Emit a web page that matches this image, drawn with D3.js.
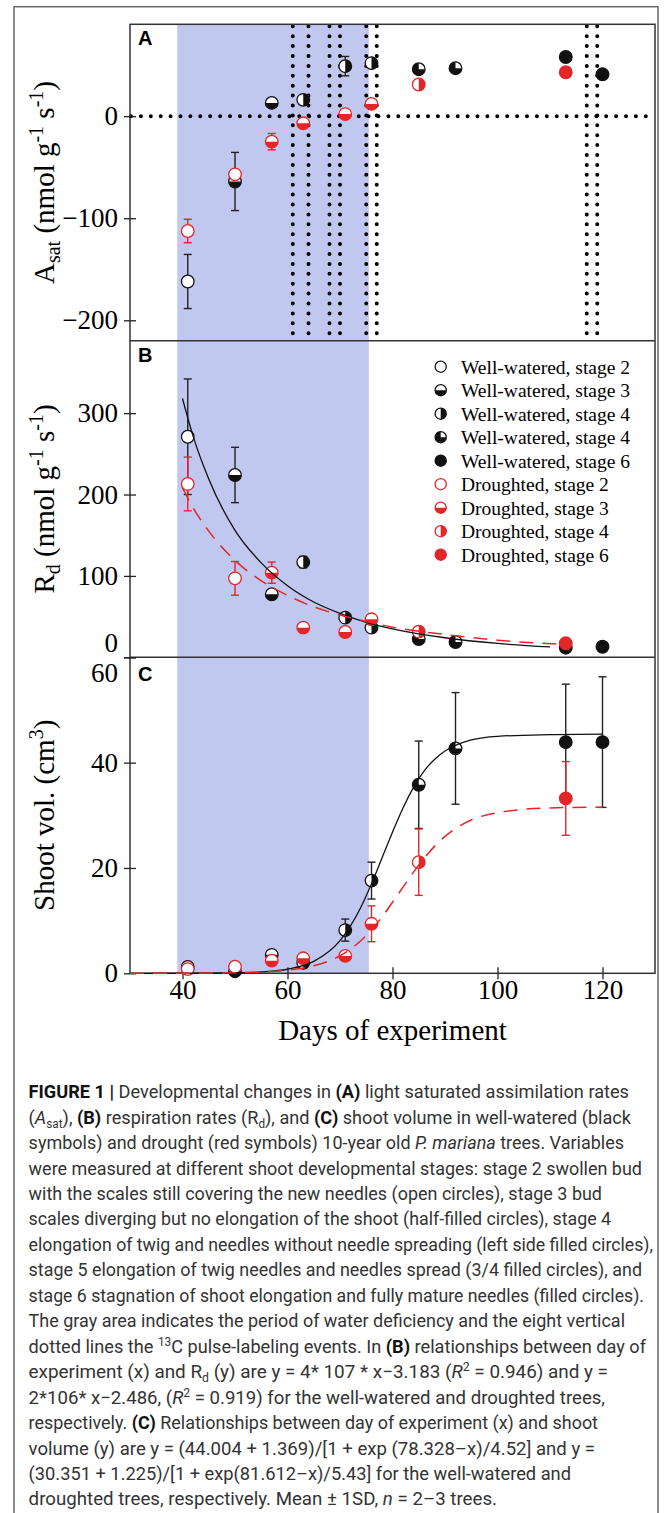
<!DOCTYPE html>
<html><head><meta charset="utf-8">
<script src="https://cdn.jsdelivr.net/npm/d3@7/dist/d3.min.js"></script>
<style>html,body{margin:0;padding:0;background:#fff;}svg{display:block;}</style>
</head><body>
<script>
// ---------- DATA ----------
const daysWW = [41, 50, 57, 63, 71, 76, 85, 92, 113, 120];
const stageWW = [2, 3, 3, 4, 4, 4, 5, 5, 6, 6];
const asatWW = [-162, -64, 13, 16, 49, 52, 46, 47, 58, 41];
const asatWWsd = [26.5, 28.5, 0, 0, 9.5, 0, 0, 0, 0, 0];
const rdWW = [271, 224, 77.5, 117, 48.7, 36.4, 22.5, 18.8, 11.8, 13];
const rdWWsd = [71, 34, 0, 7, 0, 0, 0, 0, 0, 0];
const volWW = [1.2, 0.4, 3.5, 2.0, 8.2, 17.6, 35.8, 42.7, 43.9, 43.9];
const volWWsd = [0, 0, 0, 0, 2.1, 3.5, 8.3, 10.6, 11, 12.4];

const daysD = [41, 50, 57, 63, 71, 76, 85, 113];
const stageD = [2, 2, 3, 3, 3, 3, 4, 6];
const asatD = [-112.5, -57, -25, -7, 2, 12, 31, 43];
const asatDsd = [11.5, 0, 8, 0, 0, 0, 0, 0];
const rdD = [213, 97, 104, 36.4, 31.1, 46.7, 31.5, 17.2];
const rdDsd = [33, 20.7, 13, 5, 0, 0, 0, 0];
const volD = [0.8, 1.25, 2.4, 2.85, 3.3, 9.4, 21.1, 33.2];
const volDsd = [0, 0, 0, 0, 0, 3.4, 6.3, 7];

// fitted curves
const rdFitDaysWW = [40, 42, 45, 50, 55, 60, 65, 70, 75, 80, 90, 100, 110];
const rdFitWW = [318, 272, 219, 156, 116, 88, 68, 54, 43, 35, 24, 17, 12.7];
const rdFitDaysD = [40, 42, 45, 50, 55, 60, 65, 70, 75, 80, 90, 100, 112];
const rdFitD = [208, 184, 155, 119, 94, 76, 62, 52, 44, 37, 28, 21, 16];
const volFitDays = [30, 40, 50, 55, 60, 65, 70, 72, 74, 76, 78, 80, 82, 84, 86, 88, 90, 95, 100, 110, 120];
const volFitWW = [0, 0.01, 0.09, 0.26, 0.77, 2.26, 6.2, 9.0, 12.6, 17.0, 21.9, 26.8, 31.4, 35.3, 38.4, 40.6, 42.2, 44.3, 45.0, 45.3, 45.4];
const volFitD = [0, 0.015, 0.09, 0.23, 0.58, 1.42, 3.33, 4.6, 6.24, 8.29, 10.7, 13.5, 16.35, 19.2, 21.8, 24.1, 26.0, 29.1, 30.5, 31.4, 31.55];

const pulseDays = [61, 64, 68, 70, 75, 77, 117, 119];
const droughtPeriod = [39, 75.5];

const xTicks = [40, 60, 80, 100, 120];
const aTicks = [-200, -100, 0];
const bTicks = [0, 100, 200, 300];
const cTicks = [0, 20, 40, 60];

const legendItems = [
  ["Well-watered, stage 2", 2, "ww"], ["Well-watered, stage 3", 3, "ww"],
  ["Well-watered, stage 4", 4, "ww"], ["Well-watered, stage 4", 5, "ww"],
  ["Well-watered, stage 6", 6, "ww"], ["Droughted, stage 2", 2, "d"],
  ["Droughted, stage 3", 3, "d"], ["Droughted, stage 4", 4, "d"],
  ["Droughted, stage 6", 6, "d"]
];

// ---------- LAYOUT ----------
const W = 669, H = 1513;
const L = 130, R = 655;
const pA = [24.3, 340.7], pB = [340.7, 657.3], pC = [657.3, 973.3];
const BLACK = "#111", RED = "#e3262a", BAND = "#c1c8ef";
const serif = "'Liberation Serif','Times New Roman',serif";

const svg = d3.select("body").append("svg").attr("width", W).attr("height", H);
svg.append("rect").attr("width", W).attr("height", H).attr("fill", "#fff");

const x = d3.scaleLinear().domain([30, 130]).range([L, R]);
const yA = d3.scaleLinear().domain([-220, 90]).range([pA[1], pA[0]]);
const yB = d3.scaleLinear().domain([0, 389]).range([pB[1], pB[0]]);
const yC = d3.scaleLinear().domain([0, 60]).range([pC[1], pC[0]]);

// outer frame
svg.append("rect").attr("x", 14).attr("y", 6.7).attr("width", 644).attr("height", 1520)
  .attr("fill", "none").attr("stroke", "#666").attr("stroke-width", 1.5);

// drought band
svg.append("rect").attr("x", x(droughtPeriod[0])).attr("y", pA[0])
  .attr("width", x(droughtPeriod[1]) - x(droughtPeriod[0])).attr("height", pC[1] - pA[0])
  .attr("fill", BAND);

// dotted lines in A
const dots = svg.append("g").attr("stroke", "#000").attr("stroke-width", 4)
  .attr("stroke-linecap", "round").attr("stroke-dasharray", "0 9.9").attr("fill", "none");
dots.append("line").attr("x1", L + 1).attr("x2", R).attr("y1", yA(0)).attr("y2", yA(0));
pulseDays.forEach(d => {
  dots.append("line").attr("x1", x(d)).attr("x2", x(d)).attr("y1", pA[0] + 2).attr("y2", pA[1]);
});

// frame and separators
const frame = svg.append("g").attr("stroke", "#333").attr("stroke-width", 1.5).attr("fill", "none");
frame.append("rect").attr("x", L).attr("y", pA[0]).attr("width", R - L).attr("height", pC[1] - pA[0]);
frame.append("line").attr("x1", L).attr("x2", R).attr("y1", pB[0]).attr("y2", pB[0]);
frame.append("line").attr("x1", L).attr("x2", R).attr("y1", pC[0]).attr("y2", pC[0]);

// axes
function yAxis(scale, ticks, fmt) {
  const g = svg.append("g").attr("transform", `translate(${L},0)`)
    .call(d3.axisLeft(scale).tickValues(ticks).tickSize(6).tickPadding(6).tickFormat(fmt));
  g.select(".domain").remove();
  g.selectAll(".tick line").attr("x1", -6).attr("x2", 6).attr("stroke", "#222").attr("stroke-width", 1.3);
  g.selectAll(".tick text").attr("font-family", serif).attr("font-size", 27).attr("fill", "#000");
  return g;
}
const minusFmt = d => d < 0 ? "\u2212" + Math.abs(d) : String(d);
yAxis(yA, aTicks, minusFmt);
const gB = yAxis(yB, bTicks, minusFmt);
gB.selectAll(".tick text").filter(d => d === 0).attr("y", -14);
const gC = yAxis(yC, cTicks, minusFmt);
gC.selectAll(".tick text").filter(d => d === 60).attr("y", 16);

const gx = svg.append("g").attr("transform", `translate(0,${pC[1]})`)
  .call(d3.axisBottom(x).tickValues(xTicks).tickSize(6).tickPadding(6));
gx.select(".domain").remove();
gx.selectAll(".tick line").attr("y1", -6).attr("y2", 6).attr("stroke", "#222").attr("stroke-width", 1.3);
gx.selectAll(".tick text").attr("font-family", serif).attr("font-size", 27).attr("fill", "#000")
  .attr("dy", null).attr("y", 26);

// axis titles
svg.append("text").attr("x", (L + R) / 2).attr("y", 1040).attr("text-anchor", "middle")
  .attr("font-family", serif).attr("font-size", 29).text("Days of experiment");

function yTitle(cy, parts) {
  const t = svg.append("text").attr("transform", `translate(54,${cy}) rotate(-90)`)
    .attr("text-anchor", "middle").attr("font-family", serif).attr("font-size", 29).attr("fill", "#000");
  parts.forEach(p => {
    const s = t.append("tspan").text(p[0]);
    if (p[1] === "sub") s.attr("font-size", 20).attr("baseline-shift", -6);
    if (p[1] === "sup") s.attr("font-size", 20).attr("baseline-shift", 11);
  });
}
yTitle((pA[0] + pA[1]) / 2, [["A"], ["sat", "sub"], [" (nmol g"], ["-1", "sup"], [" s"], ["-1", "sup"], [")"]]);
yTitle((pB[0] + pB[1]) / 2, [["R"], ["d", "sub"], [" (nmol g"], ["-1", "sup"], [" s"], ["-1", "sup"], [")"]]);
yTitle((pC[0] + pC[1]) / 2, [["Shoot vol. (cm"], ["3", "sup"], [")"]]);

// panel letters
[["A", 44.5], ["B", 362], ["C", 681]].forEach(([s, yy]) => {
  svg.append("text").attr("x", 138).attr("y", yy).attr("font-family", "'Liberation Sans',Arial,sans-serif")
    .attr("font-weight", "bold").attr("font-size", 20).text(s);
});

// markers
const arc = d3.arc().innerRadius(0);
function marker(g, cx, cy, stage, color, r) {
  const m = g.append("g").attr("transform", `translate(${cx},${cy})`);
  m.append("circle").attr("r", r).attr("fill", stage === 6 ? color : "#fff")
    .attr("stroke", color).attr("stroke-width", 1.3);
  let a = null;
  if (stage === 3) a = [Math.PI / 2, 3 * Math.PI / 2];
  if (stage === 4) a = [0, Math.PI];
  if (stage === 5) a = [Math.PI / 2, 2 * Math.PI];
  if (a) m.append("path").attr("d", arc({ outerRadius: r, startAngle: a[0], endAngle: a[1] })).attr("fill", color);
}

function errorBars(g, days, vals, sds, y) {
  days.forEach((d, i) => {
    if (!sds[i]) return;
    const cx = x(d), y1 = y(vals[i] - sds[i]), y2 = y(vals[i] + sds[i]);
    g.append("line").attr("x1", cx).attr("x2", cx).attr("y1", y1).attr("y2", y2);
    g.append("line").attr("x1", cx - 4).attr("x2", cx + 4).attr("y1", y1).attr("y2", y1);
    g.append("line").attr("x1", cx - 4).attr("x2", cx + 4).attr("y1", y2).attr("y2", y2);
  });
}

function panel(y, valsWW, sdWW, valsD, sdD, fits) {
  const g = svg.append("g");
  const eW = g.append("g").attr("stroke", "#222").attr("stroke-width", 1.4);
  errorBars(eW, daysWW, valsWW, sdWW, y);
  daysWW.forEach((d, i) => marker(g, x(d), y(valsWW[i]), stageWW[i], BLACK, 6.3));
  const eD = g.append("g").attr("stroke", RED).attr("stroke-width", 1.4);
  errorBars(eD, daysD, valsD, sdD, y);
  daysD.forEach((d, i) => marker(g, x(d), y(valsD[i]), stageD[i], RED, 6.3));
  if (fits) {
    const line = d3.line().curve(d3.curveMonotoneX);
    g.append("path").attr("d", line(fits.dw.map((d, i) => [x(d), y(fits.vw[i])])))
      .attr("fill", "none").attr("stroke", BLACK).attr("stroke-width", 1.3);
    g.append("path").attr("d", line(fits.dd.map((d, i) => [x(d), y(fits.vd[i])])))
      .attr("fill", "none").attr("stroke", RED).attr("stroke-width", 1.5).attr("stroke-dasharray", "14 9");
  }
}
panel(yA, asatWW, asatWWsd, asatD, asatDsd, null);
panel(yB, rdWW, rdWWsd, rdD, rdDsd, { dw: rdFitDaysWW, vw: rdFitWW, dd: rdFitDaysD, vd: rdFitD });
panel(yC, volWW, volWWsd, volD, volDsd, { dw: volFitDays, vw: volFitWW, dd: volFitDays, vd: volFitD });

// legend
const lg = svg.append("g");
legendItems.forEach((it, i) => {
  const yy = 366.7 + i * 23.5;
  marker(lg, 440.7, yy, it[1], it[2] === "ww" ? BLACK : RED, 5.6);
  lg.append("text").attr("x", 461).attr("y", yy).attr("dy", "0.35em")
    .attr("font-family", serif).attr("font-size", 19.5).attr("fill", "#000").text(it[0]);
});

// caption
const capLines = [
  [[["FIGURE 1 |", "b"], [" Developmental changes in "], ["(A)", "b"], [" light saturated assimilation rates"]], 629],
  [[["("], ["A", "i"], ["sat", "sub"], ["), "], ["(B)", "b"], [" respiration rates (R"], ["d", "sub"], ["), and "], ["(C)", "b"], [" shoot volume in well-watered (black"]], 631],
  [[["symbols) and drought (red symbols) 10-year old "], ["P. mariana", "i"], [" trees. Variables"]], 624],
  [[["were measured at different shoot developmental stages: stage 2 swollen bud"]], 642],
  [[["with the scales still covering the new needles (open circles), stage 3 bud"]], 602],
  [[["scales diverging but no elongation of the shoot (half-filled circles), stage 4"]], 611],
  [[["elongation of twig and needles without needle spreading (left side filled circles),"]], 653],
  [[["stage 5 elongation of twig needles and needles spread (3/4 filled circles), and"]], 642],
  [[["stage 6 stagnation of shoot elongation and fully mature needles (filled circles)."]], 644],
  [[["The gray area indicates the period of water deficiency and the eight vertical"]], 625],
  [[["dotted lines the "], ["13", "sup"], ["C pulse-labeling events. In "], ["(B)", "b"], [" relationships between day of"]], 646],
  [[["experiment (x) and R"], ["d", "sub"], [" (y) are y = 4* 107 * x\u22123.183 ("], ["R", "i"], ["2", "sup"], [" = 0.946) and y ="]], 608],
  [[["2*106* x\u22122.486, ("], ["R", "i"], ["2", "sup"], [" = 0.919) for the well-watered and droughted trees,"]], 605],
  [[["respectively. "], ["(C)", "b"], [" Relationships between day of experiment (x) and shoot"]], 598],
  [[["volume (y) are y = (44.004 + 1.369)/[1 + exp (78.328\u2013x)/4.52] and y ="]], 595],
  [[["(30.351 + 1.225)/[1 + exp(81.612\u2013x)/5.43] for the well-watered and"]], 571],
  [[["droughted trees, respectively. Mean \u00b1 1SD, "], ["n", "i"], [" = 2\u20133 trees."]], 497]
];
const capX = 28.6, capY0 = 1098.2, capDy = 25.45, capFs = 18.5;
const capFont = "'Liberation Sans Narrow','Arial Narrow','Roboto',sans-serif";
function fillLine(t, parts, fs) {
  t.selectAll("tspan").remove();
  t.attr("font-size", fs);
  parts.forEach(p => {
    const s = t.append("tspan").text(p[0]);
    if (p[1] === "b") s.attr("font-weight", "bold").attr("fill", "#111");
    if (p[1] === "i") s.attr("font-style", "italic");
    if (p[1] === "sub") s.attr("font-size", fs * 0.65).attr("baseline-shift", -fs * 0.22);
    if (p[1] === "sup") s.attr("font-size", fs * 0.65).attr("baseline-shift", fs * 0.38);
  });
}
// measure natural widths at the nominal size, then shrink the font so the line fits,
// and stretch vertically to keep the tall, condensed look of the original caption
const capTexts = capLines.map(([parts, endX], i) => {
  const g = svg.append("g");
  const t = g.append("text").attr("x", 0).attr("y", 0)
    .attr("font-family", capFont).attr("fill", "#333");
  fillLine(t, parts, capFs);
  const nat = t.node().getComputedTextLength();
  return { g, t, parts, target: endX - capX, s: (endX - capX) / nat, i };
});
const sMed = d3.median(capTexts, d => d.s);
capTexts.forEach(d => {
  fillLine(d.t, d.parts, capFs * sMed);
  d.t.attr("textLength", d.target).attr("lengthAdjust", "spacingAndGlyphs");
  d.g.attr("transform", `translate(${capX},${capY0 + d.i * capDy}) scale(1,${1 / sMed})`);
});
</script>
</body></html>
